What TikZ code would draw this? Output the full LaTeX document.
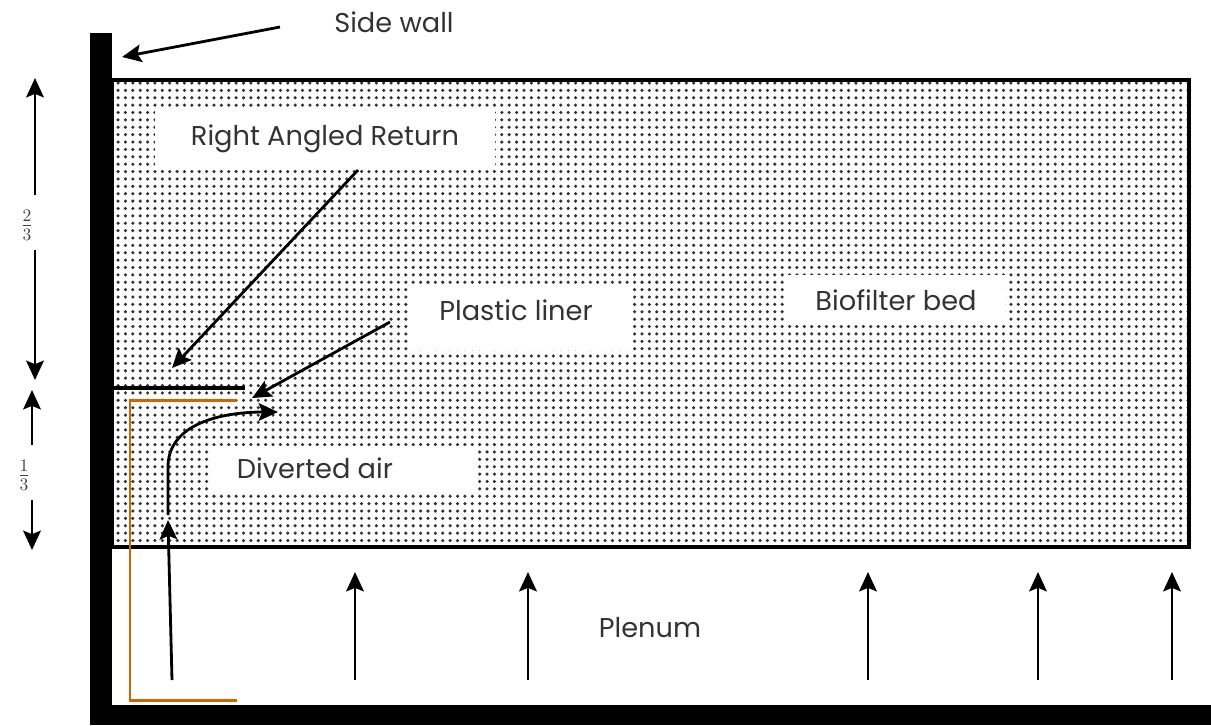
\documentclass[tikz,border=0pt]{standalone}
\usepackage{fontspec}
\setmainfont{Poppins}
\usetikzlibrary{patterns.meta,arrows.meta}
\tikzset{
  lbl/.style={fill=white, inner xsep=10pt, inner ysep=6pt, font=\fontsize{15.5}{17}\selectfont, text=black!80},
  arr/.style={-{Stealth[length=11pt,width=10pt,inset=2pt]}, line width=1.6pt},
}
\begin{document}
\begin{tikzpicture}[x=0.02cm,y=-0.02cm]
\useasboundingbox (0,0) rectangle (1211,725);
% biofilter bed
\filldraw[pattern={Dots[distance=4.2pt,radius=1pt]}, pattern color=black!80, line width=1.8pt] (112,80) rectangle (1189,547);
% walls
\fill[black] (90,33) rectangle (112,725);
\fill[black] (90,705) rectangle (1211,725);
% return and liner
\draw[line width=1.9pt] (112,388) -- (245,388);
\draw[orange!80!black, line width=1.7pt] (237,400) -- (130,400) -- (130,700) -- (237,700);
% labels
\node[lbl, minimum width=340*0.02cm, minimum height=58*0.02cm] (ret) at (325,139) {Right Angled Return};
\node[lbl, minimum width=224*0.02cm, minimum height=65*0.02cm] (liner) at (520,317) {};
\node[lbl, fill=none] at (516,310) {Plastic liner};
\node[lbl, minimum width=218*0.02cm, minimum height=50*0.02cm] (bed) at (896,300) {Biofilter bed};
\node[lbl, minimum width=266*0.02cm, minimum height=45*0.02cm] (div) at (343,468) {};
\node[lbl, fill=none] at (315,468) {Diverted air};
\node[lbl, fill=none] (plen) at (650,628) {Plenum};
\node[lbl, fill=none] (wall) at (394,22) {Side wall};
% pointers
\coordinate (w1) at (280,27);
\coordinate (r1) at (358,170);
\coordinate (l1) at (390,322);
\draw[arr] (w1) -- (122,57);
\draw[arr] (r1) -- (172,368);
\draw[arr] (l1) -- (252,398);
% diverted air
\draw[arr] (172,680) -- (168,520);
\draw[arr] (168,515) -- (168,465) .. controls (170,420) and (230,412) .. (278,412);
% plenum air
\foreach \x in {355,528,868,1038,1172}
  \draw[arr] (\x,680) -- (\x,572);
% heights
\draw[arr] (35,195) -- (35,78);
\draw[arr] (35,250) -- (35,380);
\node[font=\Large, text=black!75] (two) at (27,225) {$\frac{2}{3}$};
\draw[arr] (32,445) -- (32,390);
\draw[arr] (32,500) -- (32,550);
\node[font=\Large, text=black!75] (one) at (24,475) {$\frac{1}{3}$};
\end{tikzpicture}
\end{document}
